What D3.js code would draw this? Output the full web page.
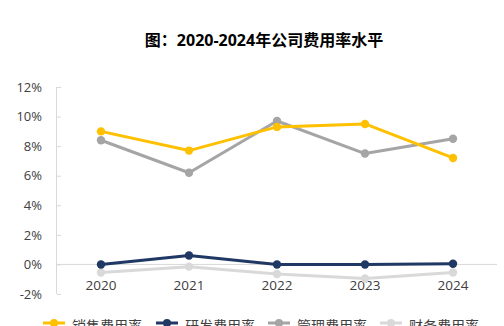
<!DOCTYPE html>
<html><head><meta charset="utf-8">
<script src="https://cdn.jsdelivr.net/npm/d3@7"></script>
<style>body{margin:0;background:#fff;overflow:hidden}text{font-family:"Open Sans","Noto Sans CJK SC",sans-serif}</style>
</head><body>
<svg id="c" width="504" height="326"></svg>
<script>
const title = "图：2020-2024年公司费用率水平";
const years = ["2020","2021","2022","2023","2024"];
const seriesNames = ["销售费用率","研发费用率","管理费用率","财务费用率"];
const sales = [9.0, 7.7, 9.3, 9.5, 7.2];
const rnd = [0.0, 0.6, 0.0, 0.0, 0.05];
const admin = [8.4, 6.2, 9.7, 7.5, 8.5];
const finance = [-0.55, -0.15, -0.65, -0.95, -0.55];
const yTicks = [-2,0,2,4,6,8,10,12];
const colors = ["#FFC000","#203864","#A5A5A5","#D9D9D9"];

const svg = d3.select("#c");
const x = d3.scaleBand().domain(years).range([57,497]);
const y = d3.scaleLinear().domain([-2,12]).range([294,87]);

svg.append("text").attr("x",264).attr("y",46).attr("text-anchor","middle")
  .attr("font-size",16).attr("font-weight","bold").attr("fill","#000").text(title);

// y axis
const ya = svg.append("g").attr("transform","translate(57,0)")
  .call(d3.axisLeft(y).tickValues(yTicks).tickFormat(d=>d+"%").tickSize(-4).tickPadding(15));
ya.select(".domain").attr("stroke","#D9D9D9").attr("d","M-0.5,87V294");
ya.selectAll(".tick line").attr("stroke","#D9D9D9");
ya.selectAll("text").attr("font-size",13).attr("fill","#404040");

// zero line
svg.append("line").attr("x1",57).attr("x2",497).attr("y1",y(0)).attr("y2",y(0)).attr("stroke","#D9D9D9");

// x labels
svg.append("g").selectAll("text").data(years).join("text")
  .attr("x",d=>x(d)+x.bandwidth()/2).attr("y",290).attr("text-anchor","middle")
  .attr("font-size",13.5).attr("fill","#404040").text(d=>d);

const data = [sales, rnd, admin, finance];
const order = [3,2,0,1];
const line = d3.line().x((d,i)=>x(years[i])+x.bandwidth()/2).y(d=>y(d));
order.forEach(k=>{
  const g = svg.append("g");
  g.append("path").datum(data[k]).attr("d",line).attr("fill","none")
    .attr("stroke",colors[k]).attr("stroke-width",3).attr("stroke-linejoin","round");
  g.selectAll("circle").data(data[k]).join("circle")
    .attr("cx",(d,i)=>x(years[i])+x.bandwidth()/2).attr("cy",d=>y(d)).attr("r",4.2).attr("fill",colors[k]);
});

// legend
const lx = [43,156,268,380];
seriesNames.forEach((n,i)=>{
  const g = svg.append("g");
  g.append("line").attr("x1",lx[i]).attr("x2",lx[i]+22).attr("y1",323).attr("y2",323)
    .attr("stroke",colors[i]).attr("stroke-width",3);
  g.append("circle").attr("cx",lx[i]+11).attr("cy",323).attr("r",4).attr("fill",colors[i]);
  g.append("text").attr("x",lx[i]+29).attr("y",331).attr("font-size",14).attr("fill","#404040").text(n);
});
</script>
</body></html>
